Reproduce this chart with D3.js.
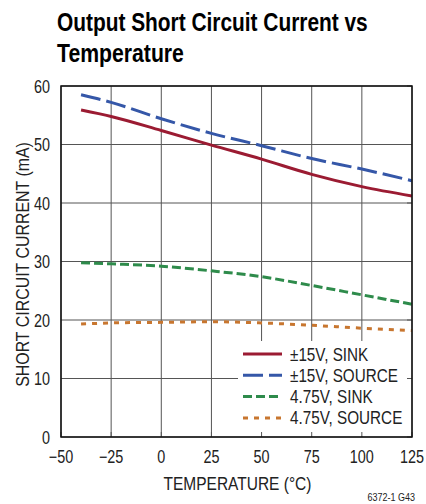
<!DOCTYPE html>
<html><head><meta charset="utf-8">
<script src="https://cdn.jsdelivr.net/npm/d3@7"></script>
<style>body{margin:0;background:#fff}svg{display:block}text{font-family:"Liberation Sans","Arial",sans-serif}</style>
</head><body><div id="c"></div>
<script>
const temps = [-40, -25, 0, 25, 50, 75, 100, 125];
const sink15 = [55.9, 54.8, 52.4, 49.9, 47.5, 44.9, 42.8, 41.2];
const source15 = [58.5, 57.2, 54.4, 51.9, 49.8, 47.6, 45.8, 43.8];
const sink475 = [29.8, 29.6, 29.2, 28.4, 27.4, 25.9, 24.3, 22.7];
const source475 = [19.3, 19.5, 19.6, 19.7, 19.5, 19.1, 18.6, 18.2];
const xTicks = [-50, -25, 0, 25, 50, 75, 100, 125];
const yTicks = [0, 10, 20, 30, 40, 50, 60];
const seriesNames = ["±15V, SINK", "±15V, SOURCE", "4.75V, SINK", "4.75V, SOURCE"];
const seriesColors = ["#9b1b32", "#3557a8", "#2e8b4b", "#c8762f"];
const seriesDash = [null, "20,6", "9,4", "5,6"];
const seriesData = [sink15, source15, sink475, source475];

const W = 426, H = 504;
const m = {l: 61, r: 14, t: 86, b: 67};
const svg = d3.select("#c").append("svg").attr("width", W).attr("height", H);
const x = d3.scaleLinear().domain([-50, 125]).range([m.l, W - m.r]);
const y = d3.scaleLinear().domain([0, 60]).range([H - m.b, m.t]);

function measure(s, size, weight) {
  const t = svg.append("text").attr("font-size", size).attr("font-weight", weight || "normal").text(s);
  const l = t.node().getComputedTextLength();
  t.remove();
  return l;
}
// condensed text helper: scales horizontally to a target width or by a factor
function ct(parent, px, py, s, size, o = {}) {
  const g = parent.append("g");
  const t = g.append("text").attr("font-size", size).attr("fill", o.fill || "#222")
    .attr("font-weight", o.weight || "normal").attr("text-anchor", o.anchor || "start").text(s);
  const len = t.node().getComputedTextLength();
  const f = o.width ? o.width / len : (o.f || 0.82);
  g.attr("transform", `translate(${px},${py})` + (o.rot ? ` rotate(${o.rot})` : "") + ` scale(${f},1)`);
  return g;
}

// title
ct(svg, 57, 31, "Output Short Circuit Current vs", 25, {weight: "bold", width: 311, fill: "#000"});
ct(svg, 57, 62, "Temperature", 25, {weight: "bold", width: 127, fill: "#000"});

// grid
const g = svg.append("g");
g.selectAll(".vx").data(xTicks).join("line").attr("x1", d => x(d)).attr("x2", d => x(d))
  .attr("y1", y(0)).attr("y2", y(60)).attr("stroke", "#555").attr("stroke-width", 1);
g.selectAll(".hy").data(yTicks).join("line").attr("y1", d => y(d)).attr("y2", d => y(d))
  .attr("x1", x(-50)).attr("x2", x(125)).attr("stroke", "#555").attr("stroke-width", 1);

// series
const line = d3.line().x((d, i) => x(temps[i])).y(d => y(d)).curve(d3.curveMonotoneX);
seriesData.forEach((s, i) => {
  svg.append("path").datum(s).attr("d", line).attr("fill", "none")
    .attr("stroke", seriesColors[i]).attr("stroke-width", 3)
    .attr("stroke-dasharray", seriesDash[i]);
});

// legend box
const lx = 238, ly = 341;
svg.append("rect").attr("x", lx).attr("y", ly).attr("width", x(125) - lx - 1).attr("height", y(0) - ly - 1).attr("fill", "#fff");
const tg = svg.append("g").attr("stroke", "#555");
xTicks.forEach(d => tg.append("line").attr("x1", x(d)).attr("x2", x(d)).attr("y1", y(0)).attr("y2", y(0) - 5));
yTicks.forEach(d => tg.append("line").attr("x1", x(125)).attr("x2", x(125) - 5).attr("y1", y(d)).attr("y2", y(d)));

const legF = 108 / measure(seriesNames[1], 18);
seriesNames.forEach((n, i) => {
  const yy = 354 + i * 21.3;
  svg.append("line").attr("x1", 243).attr("x2", 282).attr("y1", yy).attr("y2", yy)
    .attr("stroke", seriesColors[i]).attr("stroke-width", 3).attr("stroke-dasharray", seriesDash[i]);
  ct(svg, 290, yy + 6.5, n, 18, {f: legF});
});

// frame
svg.append("rect").attr("x", x(-50)).attr("y", y(60)).attr("width", x(125) - x(-50)).attr("height", y(0) - y(60))
  .attr("fill", "none").attr("stroke", "#111").attr("stroke-width", 1.5);

// tick labels
const fmt = d => d < 0 ? "\u2212" + Math.abs(d) : String(d);
xTicks.forEach(d => ct(svg, x(d), 463, fmt(d), 18, {anchor: "middle", f: 0.8}));
yTicks.forEach(d => ct(svg, 50, y(d) + 6.5, String(d), 18, {anchor: "end", f: 0.8}));

// axis titles
ct(svg, 237.5, 490, "TEMPERATURE (°C)", 18, {anchor: "middle", width: 148});
ct(svg, 29, 264.5, "SHORT CIRCUIT CURRENT (mA)", 19, {anchor: "middle", width: 245, rot: -90});
ct(svg, 415, 501, "6372-1 G43", 10, {anchor: "end", f: 0.9});
</script></body></html>
